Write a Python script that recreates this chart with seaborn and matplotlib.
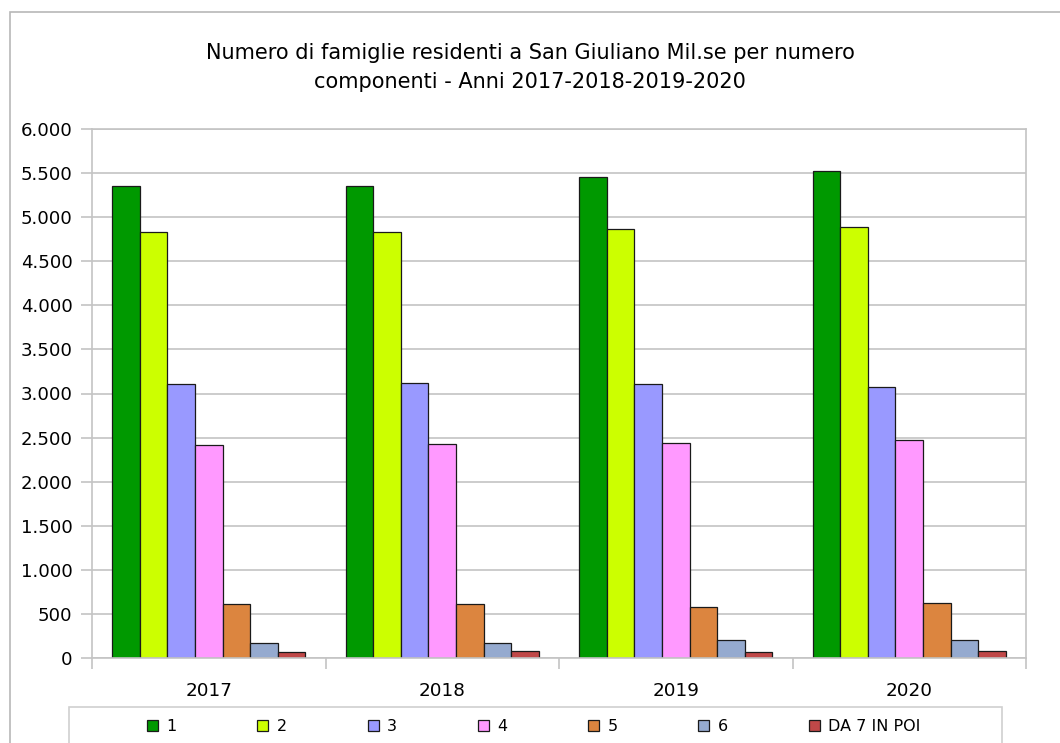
import matplotlib
matplotlib.use("Agg")
import matplotlib.pyplot as plt
import seaborn as sns
import pandas as pd
from matplotlib.ticker import FuncFormatter, FixedLocator
from matplotlib.patches import Rectangle

years = ["2017", "2018", "2019", "2020"]
components = ["1", "2", "3", "4", "5", "6", "DA 7 IN POI"]
values_1 = [5349, 5349, 5451, 5527]
values_2 = [4832, 4836, 4870, 4885]
values_3 = [3110, 3114, 3110, 3069]
values_4 = [2419, 2431, 2438, 2469]
values_5 = [607, 615, 581, 623]
values_6 = [170, 173, 200, 204]
values_7 = [68, 75, 68, 79]
colors = ["#009900", "#ccff00", "#9999ff", "#ff99ff", "#dc853f", "#95aacf", "#c04848"]
title_line1 = "Numero di famiglie residenti a San Giuliano Mil.se per numero"
title_line2 = "componenti - Anni 2017-2018-2019-2020"

series = [values_1, values_2, values_3, values_4, values_5, values_6, values_7]
rows = []
for comp, vals in zip(components, series):
    for y, v in zip(years, vals):
        rows.append({"Anno": y, "Componenti": comp, "Famiglie": v})
df = pd.DataFrame(rows)

sns.set_theme(style="white")
plt.rcParams["font.family"] = ["DejaVu Sans"]

W, H = 1060, 743
fig = plt.figure(figsize=(W / 100, H / 100), dpi=100)
ax = fig.add_axes([92 / W, 1 - 658 / H, (1026 - 92) / W, (658 - 129) / H])

sns.barplot(data=df, x="Anno", y="Famiglie", hue="Componenti", order=years,
            hue_order=components, palette=colors, width=0.825, gap=0,
            edgecolor="#1a1a1a", linewidth=0.9, ax=ax, legend=True, saturation=1)

grid_c = "#c4c4c4"
ax.set_ylim(0, 6000)
ax.set_xlim(-0.5, 3.5)
ax.yaxis.set_major_locator(FixedLocator(list(range(0, 6001, 500))))
ax.yaxis.set_major_formatter(FuncFormatter(lambda v, p: f"{int(v):,}".replace(",", ".")))
ax.grid(axis="y", color=grid_c, linewidth=1.2)
ax.set_axisbelow(True)
for s in ax.spines.values():
    s.set_color(grid_c)
    s.set_linewidth(1.2)

ax.set_xticks([-0.5, 0.5, 1.5, 2.5, 3.5])
ax.set_xticklabels([])
ax.set_xticks([0, 1, 2, 3], minor=True)
ax.set_xticklabels(years, minor=True)
ax.tick_params(axis="x", which="major", length=8, width=1.2, color=grid_c, bottom=True)
ax.tick_params(axis="x", which="minor", length=0, pad=17.5, labelsize=13.2, labelcolor="black")
ax.tick_params(axis="y", length=8, width=1.2, color=grid_c, left=True, pad=6, labelsize=13.1, labelcolor="black")
ax.set_xlabel("")
ax.set_ylabel("")

handles, labels = ax.get_legend_handles_labels()
ax.get_legend().remove()
leg = fig.legend(handles, labels, ncol=7, loc="center left",
                 bbox_to_anchor=(147 / W, 1 - 726.5 / H),
                 frameon=False, fontsize=11.5,
                 handlelength=0.69, handleheight=0.69, handletextpad=0.54,
                 columnspacing=5.04, borderpad=0, borderaxespad=0)
for t in leg.get_texts():
    t.set_color("black")

# legend frame box
fig.patches.append(Rectangle((69 / W, -0.05), (1002 - 69) / W, 1 - 706.5 / H + 0.05,
                             transform=fig.transFigure, fill=False,
                             edgecolor="#d0d0d0", linewidth=1.2))

fig.text(0.5, 1 - 59.3 / H, title_line1, ha="center", va="baseline", fontsize=15, color="black")
fig.text(0.5, 1 - 87.7 / H, title_line2, ha="center", va="baseline", fontsize=15, color="black")

# outer chart border
fig.patches.append(Rectangle((10 / W, -0.1), 1.2, 1 - 12 / H + 0.1, transform=fig.transFigure,
                             fill=False, edgecolor="#b8b8b8", linewidth=1.2))

fig.savefig("out.png", dpi=100)
